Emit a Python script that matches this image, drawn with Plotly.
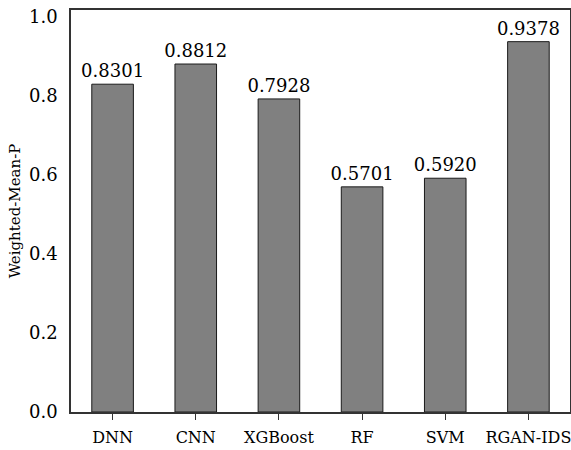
import plotly.graph_objects as go

categories = ["DNN", "CNN", "XGBoost", "RF", "SVM", "RGAN-IDS"]
values = [0.8301, 0.8812, 0.7928, 0.5701, 0.5920, 0.9378]
value_labels = ["0.8301", "0.8812", "0.7928", "0.5701", "0.5920", "0.9378"]
y_ticks = [0.0, 0.2, 0.4, 0.6, 0.8, 1.0]
y_tick_labels = ["0.0", "0.2", "0.4", "0.6", "0.8", "1.0"]

FONT = "DejaVu Serif, Liberation Serif, serif"

fig = go.Figure(go.Bar(
    x=categories, y=values, width=0.5,
    marker=dict(color="#808080", line=dict(color="#1a1a1a", width=1)),
    text=value_labels, textposition="outside", cliponaxis=False,
    constraintext="none",
    textfont=dict(family=FONT, size=18, color="black"),
))

fig.update_layout(
    width=571, height=450,
    margin=dict(l=71, r=1, t=10, b=38, autoexpand=False),
    plot_bgcolor="white", paper_bgcolor="white",
    showlegend=False,
    font=dict(family=FONT, size=17, color="black"),
    uniformtext=dict(minsize=18),
)
fig.update_xaxes(
    range=[-0.5, 5.5], showline=True, linecolor="#333333", linewidth=1.5,
    mirror=True, ticks="outside", ticklen=6, tickcolor="#333333",
    ticklabelstandoff=4,
    tickfont=dict(family=FONT, size=16), showgrid=False, automargin=False,
)
fig.update_yaxes(
    range=[0, 1.018], tickvals=y_ticks, ticktext=y_tick_labels,
    showline=True, linecolor="#333333", linewidth=1.5, mirror=True,
    ticks="", ticklabelstandoff=8, showgrid=False, zeroline=False,
    tickfont=dict(family=FONT, size=18), automargin=True,
    title=dict(text="Weighted-Mean-P", font=dict(family=FONT, size=15), standoff=5),
)

fig.write_html("out.html", config={"displayModeBar": False})

with open("out.html", "r", encoding="utf-8") as f:
    html = f.read()
html = html.replace("<head>", "<head><style>html,body{margin:0;padding:0;overflow:hidden;}</style>", 1)
with open("out.html", "w", encoding="utf-8") as f:
    f.write(html)
